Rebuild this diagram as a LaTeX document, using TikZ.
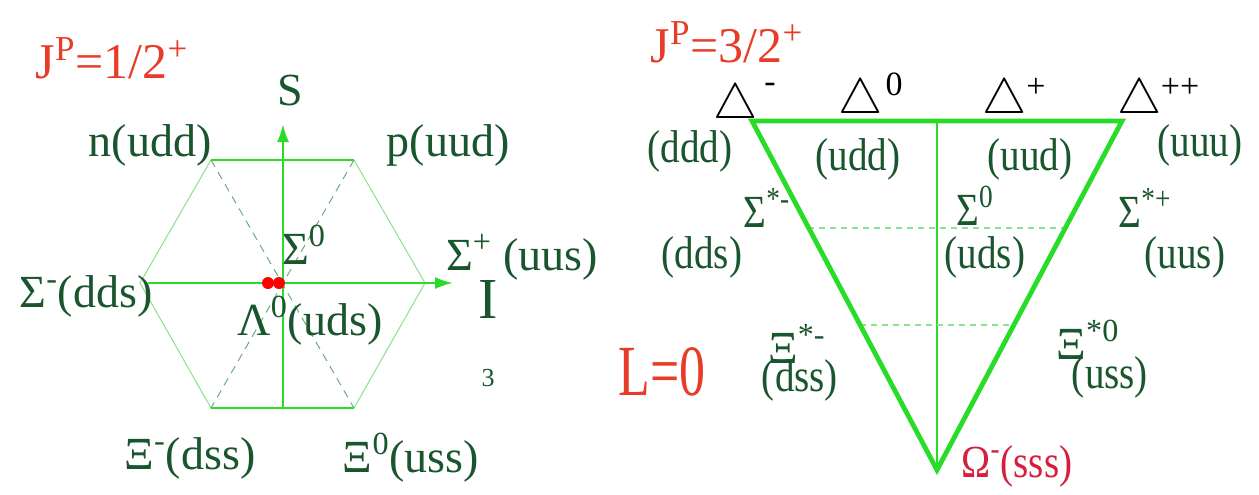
\documentclass[tikz,border=0pt]{standalone}
\usepackage{fontspec}
\setmainfont{Liberation Serif}
\usetikzlibrary{arrows.meta}
\definecolor{txt}{RGB}{25,85,45}
\definecolor{gr}{RGB}{40,220,40}
\definecolor{lgr}{RGB}{140,225,140}
\definecolor{dgr}{RGB}{110,170,120}
\definecolor{rd}{RGB}{232,60,40}
\definecolor{om}{RGB}{215,30,60}
\newcommand{\deltri}{{\fontsize{29}{29}\selectfont$\bigtriangleup$}}
\begin{document}
\begin{tikzpicture}[x=0.5pt,y=-0.5pt,
  lab/.style={text=txt,font=\fontsize{23}{23}\selectfont,inner sep=0pt},
  rlab/.style={text=txt,font=\fontsize{23}{23}\selectfont\addfontfeatures{FakeStretch=0.85},inner sep=0pt},
  dlab/.style={text=black,font=\fontsize{17}{17}\selectfont,inner sep=0pt},
  title/.style={text=rd,font=\fontsize{25}{25}\selectfont,inner sep=0pt},
  axis/.style={draw=gr,line width=1.2pt},
  thick edge/.style={draw=gr,line width=1.3pt},
  thin edge/.style={draw=lgr,line width=0.5pt},
  dash line/.style={draw=dgr,line width=0.5pt,dash pattern=on 4pt off 3pt},
  tri edge/.style={draw=gr,line width=2.4pt},
  tri line/.style={draw=gr,line width=0.6pt},
  tri dash/.style={draw=lgr,line width=0.6pt,dash pattern=on 3pt off 2.5pt}]
\useasboundingbox (0,0) rectangle (1259,494);
\fill[white] (0,0) rectangle (1259,494);
% ---------- left hexagon ----------
\coordinate (hn) at (211,160);
\coordinate (hp) at (354,160);
\coordinate (hr) at (425,283);
\coordinate (hbr) at (354,408);
\coordinate (hbl) at (211,408);
\coordinate (hl) at (140,283);
\coordinate (sbot) at (283,408);
\coordinate (stop) at (283,124);
\coordinate (ileft) at (148,283);
\coordinate (iright) at (453,283);
\draw[thin edge] (hn) -- (hl) -- (hbl);
\draw[thin edge] (hp) -- (hr) -- (hbr);
\draw[dash line] (hn) -- (hbr);
\draw[dash line] (hp) -- (hbl);
\draw[thick edge] (hn) -- (hp);
\draw[thick edge] (hbl) -- (hbr);
\draw[axis,-{Latex[length=9pt,width=6pt]}] (sbot) -- (stop);
\draw[axis,-{Latex[length=9pt,width=6pt]}] (ileft) -- (iright);
\fill[red] (268,283) circle (3pt);
\fill[red] (279,283) circle (3pt);
% labels
\node[title] (t1) at (112,58) {J\textsuperscript{P}=1/2\textsuperscript{+}};
\node[lab] (S) at (290,90) {S};
\node[lab] (n) at (150,145) {n(udd)};
\node[lab] (p) at (448,145) {p(uud)};
\node[lab] (s0) at (304,245) {Σ\textsuperscript{0}};
\node[lab] (sp) at (522,257) {Σ\textsuperscript{+} (uus)};
\node[lab] (sm) at (86,296) {Σ\textsuperscript{-}(dds)};
\node[lab] (l0) at (310,321) {Λ\textsuperscript{0}(uds)};
\node[lab,font=\fontsize{29}{29}\selectfont] (I) at (488,300) {I};
\node[lab,font=\fontsize{13}{13}\selectfont] (i3) at (488,378) {3};
\node[lab] (xm) at (190,458) {Ξ\textsuperscript{-}(dss)};
\node[lab] (x0) at (411,458) {Ξ\textsuperscript{0}(uss)};
% ---------- right triangle ----------
\coordinate (tl) at (752,121);
\coordinate (tr) at (1122,121);
\coordinate (tb) at (937,470);
\coordinate (tm) at (937,121);
\coordinate (d1l) at (808,228);
\coordinate (d1r) at (1066,228);
\coordinate (d2l) at (860,325);
\coordinate (d2r) at (1014,325);
\draw[tri line] (tm) -- (tb);
\draw[tri dash] (d1l) -- (d1r);
\draw[tri dash] (d2l) -- (d2r);
\draw[tri edge,line join=miter] (tl) -- (tr) -- (tb) -- cycle;
\node[title] (t2) at (727,42) {J\textsuperscript{P}=3/2\textsuperscript{+}};
\node[dlab] (dm) at (736,106) {\deltri};
\node[dlab] (dmS) at (770,88) {-};
\node[dlab] (d0) at (861,101) {\deltri};
\node[dlab] (d0S) at (894,84) {0};
\node[dlab] (dp) at (1005,101) {\deltri};
\node[dlab] (dpS) at (1036,88) {+};
\node[dlab] (dpp) at (1140,101) {\deltri};
\node[dlab] (dppS) at (1180,88) {++};
\node[rlab] (ddd) at (690,151) {(ddd)};
\node[rlab] (udd) at (858,159) {(udd)};
\node[rlab] (uud) at (1030,159) {(uud)};
\node[rlab] (uuu) at (1200,145) {(uuu)};
\node[rlab] (ssm) at (767,208) {Σ\textsuperscript{*-}};
\node[rlab] (dds) at (702,257) {(dds)};
\node[rlab] (ss0) at (975,206) {Σ\textsuperscript{0}};
\node[rlab] (uds) at (985,257) {(uds)};
\node[rlab] (ssp) at (1145,208) {Σ\textsuperscript{*+}};
\node[rlab] (uus) at (1185,257) {(uus)};
\node[title,font=\fontsize{36}{36}\selectfont\addfontfeatures{FakeStretch=0.72}] (L0) at (662,372) {L=0};
\node[lab] (xsm) at (797,344) {Ξ\textsuperscript{*-}};
\node[rlab] (dss) at (800,380) {(dss)};
\node[lab] (xs0) at (1088,340) {Ξ\textsuperscript{*0}};
\node[rlab] (uss) at (1110,377) {(uss)};
\node[rlab,text=om] (om) at (1017,466) {Ω\textsuperscript{-}(sss)};
\end{tikzpicture}
\end{document}
